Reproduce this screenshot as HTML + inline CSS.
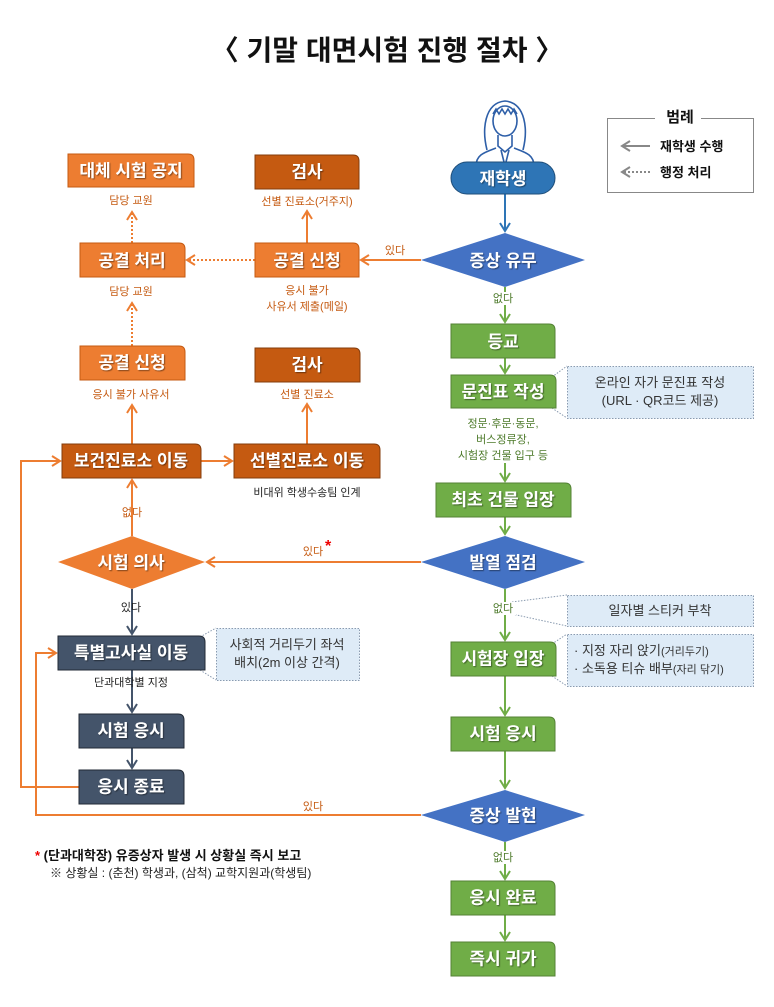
<!DOCTYPE html>
<html><head><meta charset="utf-8"><style>
html,body{margin:0;padding:0;background:#fff;}
svg{display:block;font-family:"Liberation Sans","Noto Sans CJK KR",sans-serif;}
.bt{fill:#fff;font-weight:bold;font-size:17px;text-anchor:middle;dominant-baseline:central;}
.sm{font-size:11px;text-anchor:middle;}
.or{fill:#c55a11;}
.gr{fill:#4d7a2a;}
.dk{fill:#222;}
.nt{font-size:13px;fill:#333;text-anchor:middle;}
</style></head><body>
<svg width="774" height="1007" viewBox="0 0 774 1007" xmlns="http://www.w3.org/2000/svg">
<defs>
<filter id="sh" x="-5%" y="-5%" width="110%" height="120%"><feDropShadow dx="1" dy="1" stdDeviation="0.6" flood-color="#000" flood-opacity="0.45"/></filter>
<marker id="ao" markerWidth="12" markerHeight="12" refX="9" refY="6" orient="auto" markerUnits="userSpaceOnUse"><path d="M1,1 L9,6 L1,11" fill="none" stroke="#ed7d31" stroke-width="2"/></marker>
<marker id="ag" markerWidth="12" markerHeight="12" refX="9" refY="6" orient="auto" markerUnits="userSpaceOnUse"><path d="M1,1 L9,6 L1,11" fill="none" stroke="#70ad47" stroke-width="2"/></marker>
<marker id="ab" markerWidth="12" markerHeight="12" refX="9" refY="6" orient="auto" markerUnits="userSpaceOnUse"><path d="M1,1 L9,6 L1,11" fill="none" stroke="#2e75b6" stroke-width="2"/></marker>
<marker id="ad" markerWidth="12" markerHeight="12" refX="9" refY="6" orient="auto" markerUnits="userSpaceOnUse"><path d="M1,1 L9,6 L1,11" fill="none" stroke="#44546a" stroke-width="2"/></marker>
<marker id="ay" markerWidth="12" markerHeight="12" refX="9" refY="6" orient="auto" markerUnits="userSpaceOnUse"><path d="M1,1 L9,6 L1,11" fill="none" stroke="#888" stroke-width="2"/></marker>
</defs>

<text x="387" y="60" text-anchor="middle" font-size="28" font-weight="bold" fill="#111">〈 기말 대면시험 진행 절차 〉</text>

<rect x="607.5" y="118.5" width="146" height="74" fill="none" stroke="#888"/>
<rect x="655" y="108" width="46" height="16" fill="#fff"/>
<text x="680" y="122" text-anchor="middle" font-size="15" font-weight="bold" fill="#111">범례</text>
<line x1="650" y1="146" x2="622" y2="146" stroke="#888" stroke-width="2" marker-end="url(#ay)"/>
<text x="660" y="151" font-size="13" font-weight="bold" fill="#111">재학생 수행</text>
<line x1="650" y1="172" x2="622" y2="172" stroke="#888" stroke-width="2" stroke-dasharray="2,2" marker-end="url(#ay)"/>
<text x="660" y="177" font-size="13" font-weight="bold" fill="#111">행정 처리</text>

<g fill="none" stroke="#2e5fa8" stroke-width="1.6">
<path d="M487,150 C482,130 484,103 505,101 C526,103 528,130 523,150"/>
<ellipse cx="505" cy="121" rx="12" ry="15" fill="#fff"/>
<path d="M493,114 L496,109 L499,114 L502,109 L505,114 L508,109 L511,114 L514,109 L517,114"/>
<path d="M498,135 L498,146 L505,152 L512,146 L512,135"/>
<path d="M476,166 C476,154 486,152 496,148 M534,166 C534,154 524,152 514,148"/>
<path d="M501,150 L505,166 L509,150"/>
</g>

<line x1="505" y1="194" x2="505" y2="231" stroke="#2e75b6" stroke-width="2" marker-end="url(#ab)"/>
<line x1="505" y1="287" x2="505" y2="322" stroke="#70ad47" stroke-width="2" marker-end="url(#ag)"/>
<line x1="505" y1="358" x2="505" y2="373" stroke="#70ad47" stroke-width="2" marker-end="url(#ag)"/>
<line x1="505" y1="463" x2="505" y2="481" stroke="#70ad47" stroke-width="2" marker-end="url(#ag)"/>
<line x1="505" y1="517" x2="505" y2="534" stroke="#70ad47" stroke-width="2" marker-end="url(#ag)"/>
<line x1="505" y1="589" x2="505" y2="640" stroke="#70ad47" stroke-width="2" marker-end="url(#ag)"/>
<line x1="505" y1="676" x2="505" y2="715" stroke="#70ad47" stroke-width="2" marker-end="url(#ag)"/>
<line x1="505" y1="751" x2="505" y2="788" stroke="#70ad47" stroke-width="2" marker-end="url(#ag)"/>
<line x1="505" y1="842" x2="505" y2="879" stroke="#70ad47" stroke-width="2" marker-end="url(#ag)"/>
<line x1="505" y1="915" x2="505" y2="940" stroke="#70ad47" stroke-width="2" marker-end="url(#ag)"/>

<line x1="421" y1="260" x2="361" y2="260" stroke="#ed7d31" stroke-width="2" marker-end="url(#ao)"/>
<line x1="307" y1="243" x2="307" y2="211" stroke="#ed7d31" stroke-width="2" marker-end="url(#ao)"/>
<line x1="255" y1="260" x2="187" y2="260" stroke="#ed7d31" stroke-width="2" stroke-dasharray="2,2" marker-end="url(#ao)"/>
<line x1="132" y1="243" x2="132" y2="212" stroke="#ed7d31" stroke-width="2" stroke-dasharray="2,2" marker-end="url(#ao)"/>
<line x1="132" y1="346" x2="132" y2="303" stroke="#ed7d31" stroke-width="2" stroke-dasharray="2,2" marker-end="url(#ao)"/>
<line x1="132" y1="444" x2="132" y2="405" stroke="#ed7d31" stroke-width="2" marker-end="url(#ao)"/>
<line x1="201" y1="461" x2="232" y2="461" stroke="#ed7d31" stroke-width="2" marker-end="url(#ao)"/>
<line x1="307" y1="444" x2="307" y2="404" stroke="#ed7d31" stroke-width="2" marker-end="url(#ao)"/>
<line x1="132" y1="536" x2="132" y2="480" stroke="#ed7d31" stroke-width="2" marker-end="url(#ao)"/>
<line x1="421" y1="562" x2="207" y2="562" stroke="#ed7d31" stroke-width="2" marker-end="url(#ao)"/>
<line x1="132" y1="589" x2="132" y2="634" stroke="#44546a" stroke-width="2" marker-end="url(#ad)"/>
<line x1="132" y1="670" x2="132" y2="712" stroke="#44546a" stroke-width="2" marker-end="url(#ad)"/>
<line x1="132" y1="748" x2="132" y2="768" stroke="#44546a" stroke-width="2" marker-end="url(#ad)"/>
<polyline points="79,787 21,787 21,461 60,461" fill="none" stroke="#ed7d31" stroke-width="2" marker-end="url(#ao)"/>
<polyline points="421,815 36,815 36,653 56,653" fill="none" stroke="#ed7d31" stroke-width="2" marker-end="url(#ao)"/>

<g stroke="#8a9bb0" stroke-width="1" stroke-dasharray="1.5,1.5">
<line x1="552" y1="377" x2="567" y2="366"/><line x1="552" y1="408" x2="567" y2="418"/>
<line x1="512" y1="602" x2="567" y2="595"/><line x1="512" y1="614" x2="567" y2="626"/>
<line x1="552" y1="644" x2="567" y2="634"/><line x1="552" y1="676" x2="567" y2="686"/>
<line x1="200" y1="637" x2="216" y2="628"/><line x1="200" y1="670" x2="216" y2="680"/>
<rect x="567.5" y="366.5" width="186" height="52" fill="#deebf7"/>
<rect x="567.5" y="595.5" width="186" height="31" fill="#deebf7"/>
<rect x="567.5" y="634.5" width="186" height="52" fill="#deebf7"/>
<rect x="216.5" y="628.5" width="143" height="52" fill="#deebf7"/>
</g>
<text x="660" y="387" class="nt">온라인 자가 문진표 작성</text>
<text x="660" y="405" class="nt">(URL · QR코드 제공)</text>
<text x="660" y="615" class="nt">일자별 스티커 부착</text>
<text x="574" y="655" font-size="13" fill="#333">· 지정 자리 앉기<tspan font-size="11">(거리두기)</tspan></text>
<text x="574" y="673" font-size="13" fill="#333">· 소독용 티슈 배부<tspan font-size="11">(자리 닦기)</tspan></text>
<text x="287" y="649" class="nt">사회적 거리두기 좌석</text>
<text x="287" y="667" class="nt">배치(2m 이상 간격)</text>

<rect x="451" y="162" width="104" height="32" rx="16" fill="#2e75b6" stroke="#1f4e79"/>
<polygon points="421,260 505,233 585,260 505,287" fill="#4472c4"/>
<polygon points="421,562 505,536 585,562 505,589" fill="#4472c4"/>
<polygon points="421,815 505,790 585,815 505,842" fill="#4472c4"/>
<polygon points="58,562 132,536 205,562 132,589" fill="#ed7d31"/>

<g fill="#70ad47" stroke="#548235">
<path d="M451,324H549Q555,324 555,330V358H451Z"/>
<path d="M451,375H550Q556,375 556,381V408H451Z"/>
<path d="M436,483H565Q571,483 571,489V517H436Z"/>
<path d="M451,642H550Q556,642 556,648V676H451Z"/>
<path d="M451,717H549Q555,717 555,723V751H451Z"/>
<path d="M451,881H549Q555,881 555,887V915H451Z"/>
<path d="M451,942H549Q555,942 555,948V976H451Z"/>
</g>
<g fill="#ed7d31" stroke="#c55a11">
<path d="M68,154H188Q194,154 194,160V187H68Z"/>
<path d="M80,243H179Q185,243 185,249V277H80Z"/>
<path d="M255,243H353Q359,243 359,249V277H255Z"/>
<path d="M80,346H179Q185,346 185,352V380H80Z"/>
</g>
<g fill="#c55a11" stroke="#843c0c">
<path d="M255,155H353Q359,155 359,161V189H255Z"/>
<path d="M255,348H354Q360,348 360,354V382H255Z"/>
<path d="M62,444H195Q201,444 201,450V478H62Z"/>
<path d="M234,444H374Q380,444 380,450V478H234Z"/>
</g>
<g fill="#44546a" stroke="#222a35">
<path d="M58,636H199Q205,636 205,642V670H58Z"/>
<path d="M79,714H178Q184,714 184,720V748H79Z"/>
<path d="M79,770H178Q184,770 184,776V804H79Z"/>
</g>

<g class="bt" filter="url(#sh)">
<text x="503" y="179">재학생</text>
<text x="503" y="261">증상 유무</text>
<text x="503" y="342">등교</text>
<text x="503" y="392">문진표 작성</text>
<text x="503" y="500">최초 건물 입장</text>
<text x="503" y="563">발열 점검</text>
<text x="503" y="659">시험장 입장</text>
<text x="503" y="734">시험 응시</text>
<text x="503" y="816">증상 발현</text>
<text x="503" y="898">응시 완료</text>
<text x="503" y="959">즉시 귀가</text>
<text x="131" y="171">대체 시험 공지</text>
<text x="132" y="261">공결 처리</text>
<text x="307" y="261">공결 신청</text>
<text x="132" y="363">공결 신청</text>
<text x="307" y="172">검사</text>
<text x="307" y="365">검사</text>
<text x="131" y="461">보건진료소 이동</text>
<text x="307" y="461">선별진료소 이동</text>
<text x="131" y="563">시험 의사</text>
<text x="131" y="653">특별고사실 이동</text>
<text x="131" y="731">시험 응시</text>
<text x="131" y="787">응시 종료</text>
</g>

<rect x="492" y="292" width="24" height="13" fill="#fff"/>
<rect x="492" y="602" width="24" height="13" fill="#fff"/>
<rect x="492" y="851" width="24" height="13" fill="#fff"/>
<g class="sm">
<text x="131" y="204" class="or">담당 교원</text>
<text x="131" y="295" class="or">담당 교원</text>
<text x="307" y="205" class="or">선별 진료소(거주지)</text>
<text x="307" y="294" class="or">응시 불가</text>
<text x="307" y="310" class="or">사유서 제출(메일)</text>
<text x="131" y="398" class="or">응시 불가 사유서</text>
<text x="307" y="398" class="or">선별 진료소</text>
<text x="307" y="496" class="dk">비대위 학생수송팀 인계</text>
<text x="395" y="254" class="or">있다</text>
<text x="132" y="516" class="or">없다</text>
<text x="313" y="555" class="or">있다</text>
<text x="313" y="810" class="or">있다</text>
<text x="131" y="611" class="dk">있다</text>
<text x="131" y="686" class="dk">단과대학별 지정</text>
<text x="503" y="302" class="gr">없다</text>
<text x="503" y="427" class="gr">정문·후문·동문,</text>
<text x="503" y="443" class="gr">버스정류장,</text>
<text x="503" y="459" class="gr">시험장 건물 입구 등</text>
<text x="503" y="612" class="gr">없다</text>
<text x="503" y="861" class="gr">없다</text>
</g>
<text x="325" y="551" font-size="16" font-weight="bold" fill="#e00">*</text>

<text x="35" y="860" font-size="13" font-weight="bold" fill="#111"><tspan fill="#e00">*</tspan> (단과대학장) 유증상자 발생 시 상황실 즉시 보고</text>
<text x="50" y="877" font-size="12" fill="#222">※ 상황실 : (춘천) 학생과, (삼척) 교학지원과(학생팀)</text>
</svg>
</body></html>
